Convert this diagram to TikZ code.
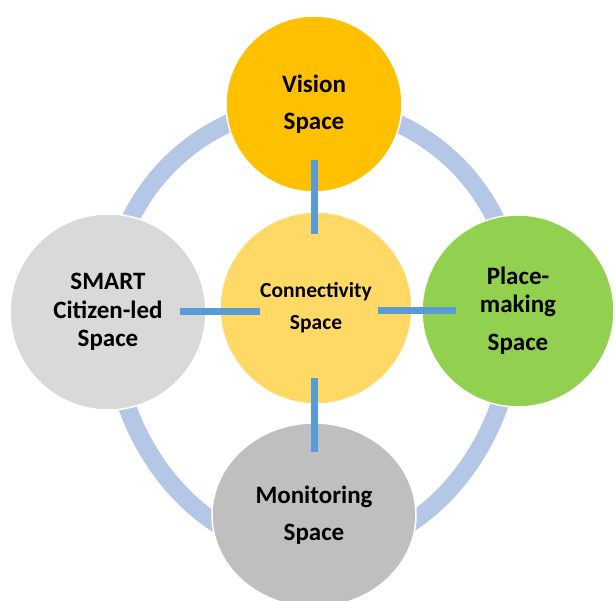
\documentclass[tikz,border=0pt]{standalone}
\usepackage{fontspec}
\setmainfont{Carlito}
\usepackage{xcolor}
\usetikzlibrary{shapes.geometric}
\definecolor{visionyellow}{HTML}{FFC000}
\definecolor{connectyellow}{HTML}{FFD966}
\definecolor{smartgrey}{HTML}{D9D9D9}
\definecolor{placegreen}{HTML}{92D050}
\definecolor{monitorgrey}{HTML}{BFBFBF}
\definecolor{ringblue}{HTML}{B4C7E7}
\definecolor{linkblue}{HTML}{5B9BD5}
\tikzstyle{bubble} = [circle, draw=white, line width=1.5pt, inner sep=0pt, text centered, align=center, font=\bfseries\fontsize{25}{37}\selectfont]
\tikzstyle{ring} = [draw=ringblue, line width=18pt]
\tikzstyle{link} = [draw=linkblue, line width=7pt]

\begin{document}
\begin{tikzpicture}[x=1pt, y=-1pt]
    \useasboundingbox (0,0) rectangle (616,601);

    \draw [ring] (313,308) ++(-203,0) arc[start angle=180, end angle=360, radius=203]
        arc[start angle=0, end angle=180, x radius=203, y radius=245];

    \node (vision) [bubble, fill=visionyellow, minimum size=176pt] at (314,104) {Vision\\Space};
    \node (connect) [bubble, fill=connectyellow, minimum size=192pt, font=\bfseries\fontsize{21.5}{32}\selectfont] at (316,308) {Connectivity\\Space};
    \node (smart) [bubble, fill=smartgrey, minimum size=196pt, font=\bfseries\fontsize{25}{28.5}\selectfont] at (108,312) {SMART\\Citizen-led\\Space};
    \node (place) [bubble, fill=placegreen, minimum size=192pt, font=\bfseries\fontsize{25}{28}\selectfont] at (518,311) {Place-\\making\\[10pt]Space};
    \node (monitor) [bubble, ellipse, fill=monitorgrey, minimum width=204pt, minimum height=184pt] at (314,515) {Monitoring\\Space};

    \draw [link, shorten <=-33pt, shorten >=-23pt] (vision.south) -- (vision.south |- connect.north);
    \draw [link, shorten <=-27pt, shorten >=-41pt] (smart.east) -- (smart.east -| connect.west);
    \draw [link, shorten <=-35pt, shorten >=-35pt] (place.west -| connect.east) -- (place.west);
    \draw [link, shorten <=-27pt, shorten >=-30pt] (monitor.north |- connect.south) -- (monitor.north);
\end{tikzpicture}
\end{document}
